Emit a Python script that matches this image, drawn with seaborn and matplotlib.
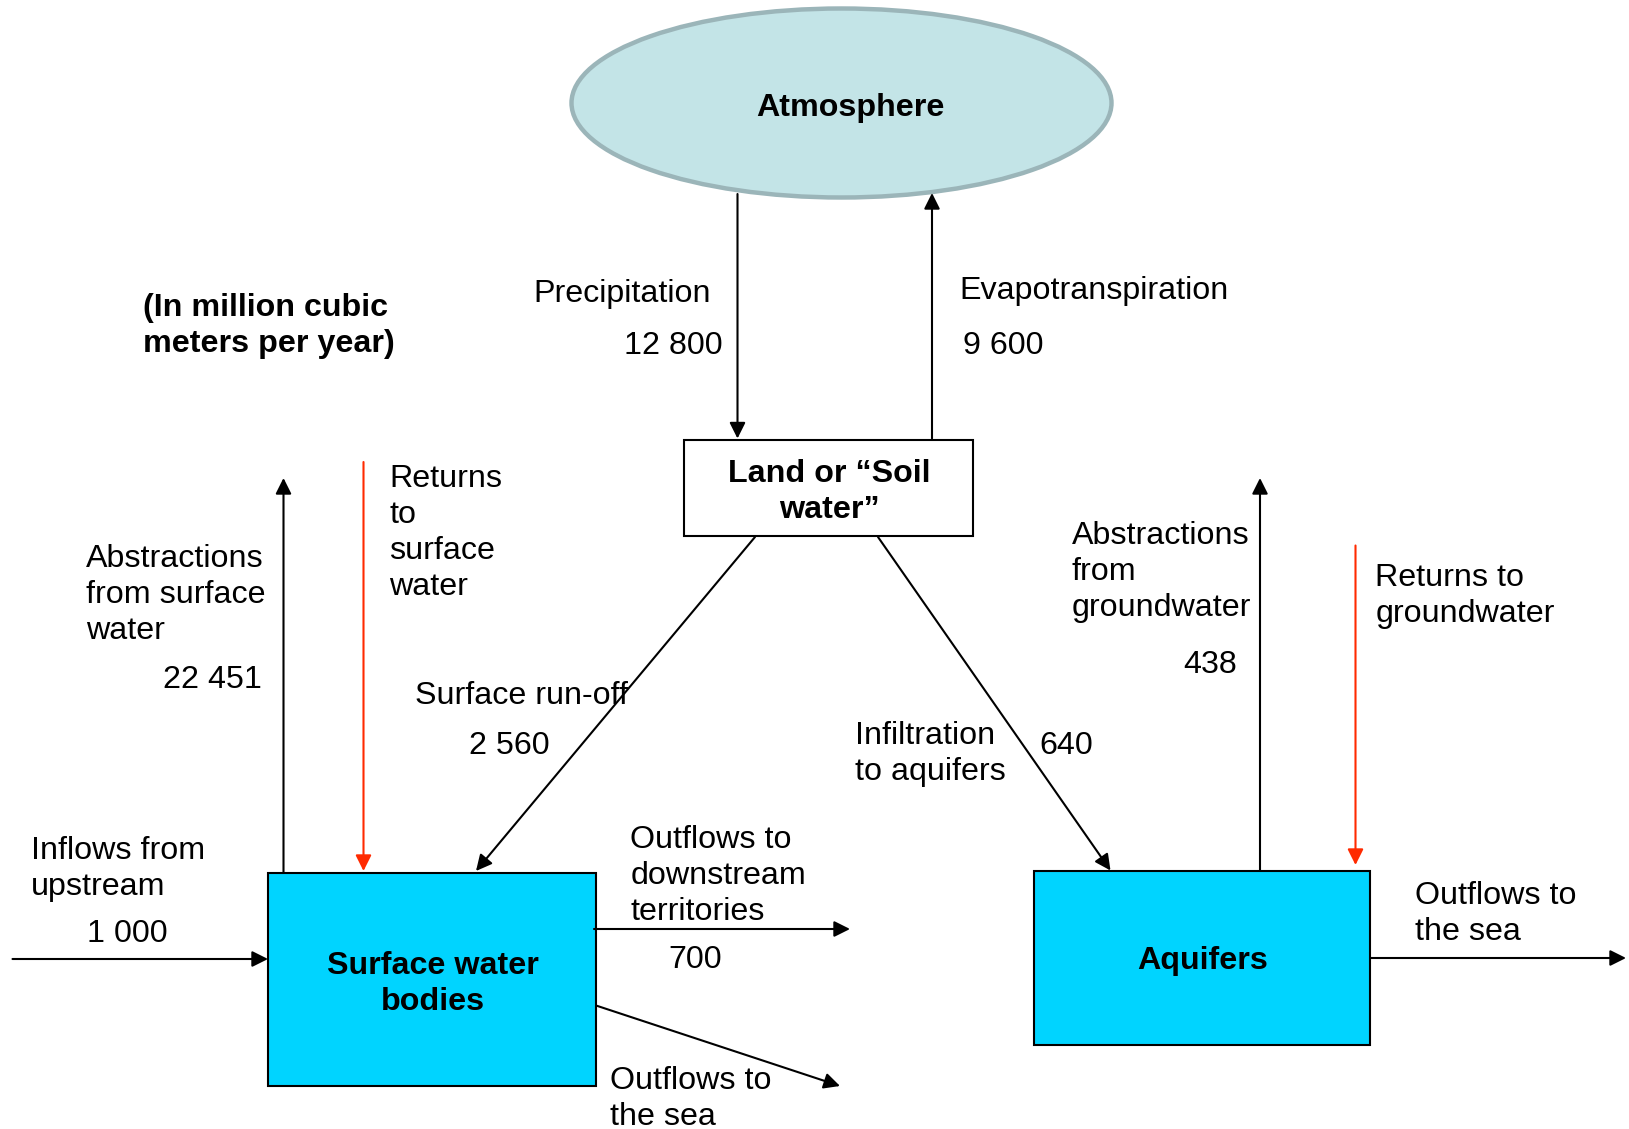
import matplotlib.pyplot as plt
import seaborn as sns
from matplotlib.patches import Ellipse, Rectangle

sns.set_style("white")
plt.rcParams["font.family"] = ["Liberation Sans", "DejaVu Sans"]

# stocks (boxes)
stock_names = ["Atmosphere", "Land or \u201cSoil\nwater\u201d", "Surface water\nbodies", "Aquifers"]

# flows (million m3 per year)
flow_names = ["Precipitation", "Evapotranspiration", "Surface run-off", "Infiltration\nto aquifers",
              "Abstractions\nfrom surface\nwater", "Abstractions\nfrom\ngroundwater",
              "Inflows from\nupstream", "Outflows to\ndownstream\nterritories"]
flow_values = ["12 800", "9 600", "2 560", "640", "22 451", "438", "1 000", "700"]

unit_note = "(In million cubic\nmeters per year)"
return_names = ["Returns\nto\nsurface\nwater", "Returns to\ngroundwater"]
sea_names = ["Outflows to\nthe sea", "Outflows to\nthe sea"]

FS = 23.2
BLACK = "black"
RED = "#FF2A00"
CYAN = "#00D4FF"

fig = plt.figure(figsize=(16.29, 11.29), dpi=100)
ax = fig.add_axes([0, 0, 1, 1])
ax.set_xlim(0, 1629)
ax.set_ylim(1129, 0)
ax.axis("off")


def arrow(x0, y0, x1, y1, color=BLACK):
    ax.annotate("", xy=(x1, y1), xytext=(x0, y0),
                arrowprops=dict(arrowstyle="-|>", color=color, lw=1.5,
                                mutation_scale=24, shrinkA=0, shrinkB=0))


def txt(x, y, s, ha="left", bold=False, ls=1.25):
    ax.text(x, y + 3, s, ha=ha, va="center", fontsize=FS, linespacing=ls,
            fontweight="bold" if bold else "normal", color=BLACK)


# stocks
ax.add_patch(Ellipse((841.5, 103), 540, 189, facecolor="#C3E4E7", edgecolor="#9BB5B9", lw=3.2))
ax.add_patch(Rectangle((684.5, 439.5), 289, 96.5, facecolor="white", edgecolor=BLACK, lw=1.5))
ax.add_patch(Rectangle((268, 872.5), 328, 213, facecolor=CYAN, edgecolor=BLACK, lw=1.5))
ax.add_patch(Rectangle((1034.5, 870.5), 336, 174.5, facecolor=CYAN, edgecolor=BLACK, lw=1.5))

txt(850, 105, stock_names[0], ha="center", bold=True)
txt(829, 489, stock_names[1], ha="center", bold=True)
txt(433, 981, stock_names[2], ha="center", bold=True)
txt(1203, 958, stock_names[3], ha="center", bold=True)

# arrows
arrow(737.5, 194, 737.5, 438.5)
arrow(932, 438.5, 932, 193)
arrow(755, 537, 476, 871)
arrow(878, 537, 1110.5, 870.5)
arrow(283.5, 872.5, 283.5, 478)
arrow(363.5, 462, 363.5, 871, RED)
arrow(1260, 870.5, 1260, 478)
arrow(1355.5, 545.5, 1355.5, 865, RED)
arrow(12.5, 959, 268, 959)
arrow(594, 929, 850, 929)
arrow(596, 1005.5, 840, 1086)
arrow(1370.5, 958, 1626, 958)

# labels
txt(143, 323, unit_note, bold=True)
txt(533, 291, flow_names[0])
txt(624, 343, flow_values[0])
txt(959, 288, flow_names[1])
txt(963, 343, flow_values[1])
txt(415.5, 693, flow_names[2])
txt(469.5, 743, flow_values[2])
txt(855, 751, flow_names[3])
txt(1039, 743, flow_values[3])
txt(86, 592, flow_names[4])
txt(262, 677, flow_values[4], ha="right")
txt(1072, 569, flow_names[5])
txt(1183, 662, flow_values[5])
txt(31, 866, flow_names[6])
txt(87, 931, flow_values[6])
txt(630.5, 873, flow_names[7])
txt(668, 957, flow_values[7])
txt(389.5, 530, return_names[0])
txt(1375.5, 593, return_names[1])
txt(610, 1096, sea_names[0])
txt(1415, 911, sea_names[1])

fig.savefig("out.png", dpi=100, facecolor="white")
